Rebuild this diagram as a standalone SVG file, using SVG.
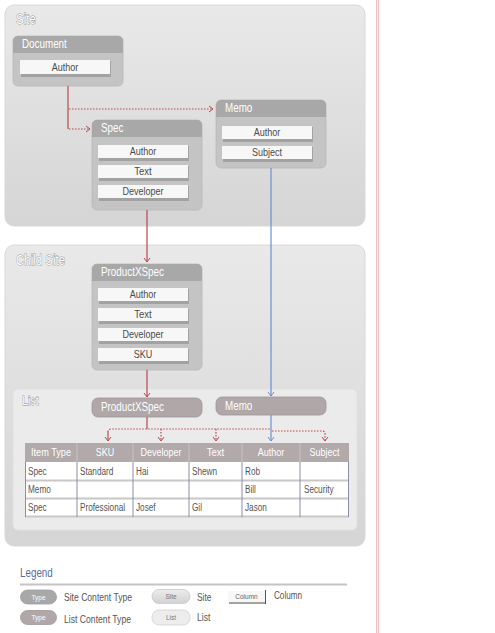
<svg xmlns="http://www.w3.org/2000/svg" width="495" height="633" viewBox="0 0 495 633">
<defs>
<linearGradient id="panel" x1="0" y1="0" x2="0" y2="1">
<stop offset="0" stop-color="#e9e9e9"/><stop offset="1" stop-color="#d5d5d5"/>
</linearGradient>
<linearGradient id="sitepill" x1="0" y1="0" x2="0" y2="1">
<stop offset="0" stop-color="#ececec"/><stop offset="1" stop-color="#d2d2d2"/>
</linearGradient>
<marker id="arR" markerUnits="userSpaceOnUse" markerWidth="8" markerHeight="8" refX="5" refY="4" orient="auto">
<path d="M1,1 L5,4 L1,7" fill="none" stroke="#b84848" stroke-width="1"/>
</marker>
<marker id="arB" markerUnits="userSpaceOnUse" markerWidth="8" markerHeight="8" refX="5" refY="4" orient="auto">
<path d="M1,1 L5,4 L1,7" fill="none" stroke="#6a8fd0" stroke-width="1"/>
</marker>
</defs>
<style>
text{font-family:"Liberation Sans Narrow","Liberation Sans",Arial,sans-serif}
.ptitle{font-size:14px;fill:#ffffff;stroke:#8c8c8c;stroke-width:0.8;paint-order:stroke}
.body{fill:#c4c4c4;stroke:#b8b8b8;stroke-width:0.8}
.hdr{fill:#a8a8a8}
.ntitle{font-size:12px;fill:#ffffff}
.fshadow{fill:#a2a2a2}
.field{fill:#f7f7f7}
.ftext{font-size:11px;fill:#4a4a4a;text-anchor:middle}
.lct{fill:#b0a7a9;stroke:#a09698;stroke-width:0.8}
.th{fill:#b2a9ab}
.thtext{font-size:11px;fill:#ffffff;text-anchor:middle}
.td{font-size:10px;fill:#555555}
.red{fill:none;stroke:#b84848;stroke-width:1.2}
.redd{fill:none;stroke:#b84848;stroke-width:1.2;stroke-dasharray:1.5 1.5}
.blue{fill:none;stroke:#6a8fd0;stroke-width:1.2}
.leg{font-size:10.5px;fill:#555555}
.tiny{font-size:6.5px;fill:#ffffff;text-anchor:middle}
.tinyg{font-size:6.5px;fill:#777777;text-anchor:middle}
</style>
<rect width="495" height="633" fill="#ffffff"/>
<line x1="376.5" y1="0" x2="376.5" y2="633" stroke="#f2bcc4" stroke-width="1"/>
<line x1="378.5" y1="0" x2="378.5" y2="633" stroke="#f2bcc4" stroke-width="1"/>

<g id="site">
<rect x="5" y="5" width="360" height="221" rx="9" fill="url(#panel)" stroke="#d8d8d8" stroke-width="1"/>
<text class="ptitle" x="16" y="24" textLength="19.8" lengthAdjust="spacingAndGlyphs">Site</text>
</g>
<g id="childsite">
<rect x="5" y="245" width="360" height="301" rx="9" fill="url(#panel)" stroke="#d8d8d8" stroke-width="1"/>
<text class="ptitle" x="16" y="265" textLength="49" lengthAdjust="spacingAndGlyphs">Child Site</text>
</g>
<g id="list">
<rect x="13" y="389" width="344" height="141" rx="5" fill="#ebebeb" stroke="#e0e0e0" stroke-width="1"/>
<text class="ptitle" x="22" y="405" style="font-size:13px" textLength="16.6" lengthAdjust="spacingAndGlyphs">List</text>
</g>

<g id="document">
<rect class="body" x="13" y="36" width="110" height="50" rx="5"/>
<path class="hdr" d="M13,53 V41 a5,5 0 0 1 5,-5 H118 a5,5 0 0 1 5,5 V53 Z"/>
<text class="ntitle" x="22" y="48" textLength="44.8" lengthAdjust="spacingAndGlyphs">Document</text>
<rect class="fshadow" x="21" y="61" width="90" height="16"/>
<rect class="field" x="20" y="60" width="90" height="14"/>
<text class="ftext" x="65" y="71" textLength="26.6" lengthAdjust="spacingAndGlyphs">Author</text>
</g>

<g id="memo">
<rect class="body" x="216" y="100" width="110" height="68" rx="5"/>
<path class="hdr" d="M216,117 V105 a5,5 0 0 1 5,-5 H321 a5,5 0 0 1 5,5 V117 Z"/>
<text class="ntitle" x="225" y="112" textLength="27.3" lengthAdjust="spacingAndGlyphs">Memo</text>
<rect class="fshadow" x="223" y="127" width="90" height="15"/>
<rect class="field" x="222" y="126" width="90" height="13"/>
<text class="ftext" x="267" y="136" textLength="26.6" lengthAdjust="spacingAndGlyphs">Author</text>
<rect class="fshadow" x="223" y="147" width="90" height="15"/>
<rect class="field" x="222" y="146" width="90" height="13"/>
<text class="ftext" x="267" y="156" textLength="30.1" lengthAdjust="spacingAndGlyphs">Subject</text>
</g>

<g id="spec">
<rect class="body" x="92" y="120" width="110" height="90" rx="5"/>
<path class="hdr" d="M92,137 V125 a5,5 0 0 1 5,-5 H197 a5,5 0 0 1 5,5 V137 Z"/>
<text class="ntitle" x="101" y="132" textLength="22.4" lengthAdjust="spacingAndGlyphs">Spec</text>
<rect class="fshadow" x="99" y="146" width="90" height="15"/>
<rect class="field" x="98" y="145" width="90" height="13"/>
<text class="ftext" x="143" y="155" textLength="26.6" lengthAdjust="spacingAndGlyphs">Author</text>
<rect class="fshadow" x="99" y="166" width="90" height="15"/>
<rect class="field" x="98" y="165" width="90" height="13"/>
<text class="ftext" x="143" y="175" textLength="17.5" lengthAdjust="spacingAndGlyphs">Text</text>
<rect class="fshadow" x="99" y="186" width="90" height="15"/>
<rect class="field" x="98" y="185" width="90" height="13"/>
<text class="ftext" x="143" y="195" textLength="41.1" lengthAdjust="spacingAndGlyphs">Developer</text>
</g>

<g id="productxspec">
<rect class="body" x="92" y="264" width="110" height="106" rx="5"/>
<path class="hdr" d="M92,281 V269 a5,5 0 0 1 5,-5 H197 a5,5 0 0 1 5,5 V281 Z"/>
<text class="ntitle" x="101" y="276" textLength="62.9" lengthAdjust="spacingAndGlyphs">ProductXSpec</text>
<rect class="fshadow" x="99" y="289" width="90" height="15"/>
<rect class="field" x="98" y="288" width="90" height="13"/>
<text class="ftext" x="143" y="298" textLength="26.6" lengthAdjust="spacingAndGlyphs">Author</text>
<rect class="fshadow" x="99" y="309" width="90" height="15"/>
<rect class="field" x="98" y="308" width="90" height="13"/>
<text class="ftext" x="143" y="318" textLength="17.5" lengthAdjust="spacingAndGlyphs">Text</text>
<rect class="fshadow" x="99" y="329" width="90" height="15"/>
<rect class="field" x="98" y="328" width="90" height="13"/>
<text class="ftext" x="143" y="338" textLength="41.1" lengthAdjust="spacingAndGlyphs">Developer</text>
<rect class="fshadow" x="99" y="349" width="90" height="15"/>
<rect class="field" x="98" y="348" width="90" height="13"/>
<text class="ftext" x="143" y="358" textLength="18.5" lengthAdjust="spacingAndGlyphs">SKU</text>
</g>

<g id="list-productxspec">
<rect class="lct" x="92" y="398" width="110" height="19" rx="6"/>
<text class="ntitle" x="101" y="411" textLength="62.9" lengthAdjust="spacingAndGlyphs">ProductXSpec</text>
</g>
<g id="list-memo">
<rect class="lct" x="216" y="397" width="110" height="18" rx="6"/>
<text class="ntitle" x="225" y="410" textLength="27.3" lengthAdjust="spacingAndGlyphs">Memo</text>
</g>

<g id="table">
<rect class="th" x="25" y="443" width="324" height="19"/>
<g stroke="#c9c0c2" stroke-width="1">
<line x1="77" y1="443" x2="77" y2="462"/><line x1="133" y1="443" x2="133" y2="462"/>
<line x1="189" y1="443" x2="189" y2="462"/><line x1="242" y1="443" x2="242" y2="462"/>
<line x1="300" y1="443" x2="300" y2="462"/>
</g>
<text class="thtext" x="51" y="456" textLength="40.1" lengthAdjust="spacingAndGlyphs">Item Type</text>
<text class="thtext" x="105" y="456" textLength="18.5" lengthAdjust="spacingAndGlyphs">SKU</text>
<text class="thtext" x="161" y="456" textLength="41.1" lengthAdjust="spacingAndGlyphs">Developer</text>
<text class="thtext" x="215.5" y="456" textLength="17.5" lengthAdjust="spacingAndGlyphs">Text</text>
<text class="thtext" x="271" y="456" textLength="26.6" lengthAdjust="spacingAndGlyphs">Author</text>
<text class="thtext" x="324.5" y="456" textLength="30.1" lengthAdjust="spacingAndGlyphs">Subject</text>
<rect x="25" y="462" width="324" height="55" fill="#ffffff"/>
<g stroke="#c8c8c8" stroke-width="2">
<line x1="25" y1="480.5" x2="349" y2="480.5"/>
<line x1="25" y1="498.5" x2="349" y2="498.5"/>
<line x1="25" y1="516.5" x2="349" y2="516.5"/>
</g>
<g stroke="#8a8fa8" stroke-width="1">
<line x1="25.5" y1="462" x2="25.5" y2="517"/><line x1="77" y1="462" x2="77" y2="517"/>
<line x1="133" y1="462" x2="133" y2="517"/><line x1="189" y1="462" x2="189" y2="517"/>
<line x1="242" y1="462" x2="242" y2="517"/><line x1="300" y1="462" x2="300" y2="517"/>
<line x1="348.5" y1="462" x2="348.5" y2="517"/>
</g>
<text class="td" x="28" y="475" textLength="18.7" lengthAdjust="spacingAndGlyphs">Spec</text>
<text class="td" x="80" y="475" textLength="33.3" lengthAdjust="spacingAndGlyphs">Standard</text>
<text class="td" x="136" y="475" textLength="12.3" lengthAdjust="spacingAndGlyphs">Hai</text>
<text class="td" x="192" y="475" textLength="25.1" lengthAdjust="spacingAndGlyphs">Shewn</text>
<text class="td" x="245" y="475" textLength="15" lengthAdjust="spacingAndGlyphs">Rob</text>
<text class="td" x="28" y="493" textLength="22.8" lengthAdjust="spacingAndGlyphs">Memo</text>
<text class="td" x="245" y="493" textLength="10.9" lengthAdjust="spacingAndGlyphs">Bill</text>
<text class="td" x="304" y="493" textLength="29.6" lengthAdjust="spacingAndGlyphs">Security</text>
<text class="td" x="28" y="511" textLength="18.7" lengthAdjust="spacingAndGlyphs">Spec</text>
<text class="td" x="80" y="511" textLength="45.1" lengthAdjust="spacingAndGlyphs">Professional</text>
<text class="td" x="136" y="511" textLength="19.6" lengthAdjust="spacingAndGlyphs">Josef</text>
<text class="td" x="192" y="511" textLength="10" lengthAdjust="spacingAndGlyphs">Gil</text>
<text class="td" x="245" y="511" textLength="21.9" lengthAdjust="spacingAndGlyphs">Jason</text>
</g>

<g id="connectors">
<path class="red" d="M68,86 V129"/>
<path class="redd" d="M69,109 H213" marker-end="url(#arR)"/>
<path class="redd" d="M69,129 H90" marker-end="url(#arR)"/>
<path class="red" d="M147,210 V262" marker-end="url(#arR)"/>
<path class="blue" d="M271,168 V396" marker-end="url(#arB)"/>
<path class="red" d="M147,370 V397" marker-end="url(#arR)"/>
<path class="red" d="M147,417 V429"/>
<path class="redd" d="M108,441 V432 Q108,429 111,429 H271"/>
<path class="redd" d="M108,432 V441" marker-end="url(#arR)"/>
<path class="redd" d="M161,429 V441" marker-end="url(#arR)"/>
<path class="redd" d="M216,429 V441" marker-end="url(#arR)"/>
<path class="blue" d="M271,415 V441" marker-end="url(#arB)"/>
<path class="redd" d="M272,431 H322 Q325,431 325,434 V441" marker-end="url(#arR)"/>
</g>

<g id="legend">
<text x="20" y="577" style="font-size:12px;fill:#5b6aa0" textLength="32.8" lengthAdjust="spacingAndGlyphs">Legend</text>
<line x1="20" y1="584.5" x2="347" y2="584.5" stroke="#c4c4c4" stroke-width="2"/>
<rect x="20.5" y="590" width="36" height="14" rx="7" fill="#a8a8a8" stroke="#a0a0a0" stroke-width="0.8"/>
<text class="tiny" x="38.5" y="599.5">Type</text>
<text class="leg" x="64" y="601" textLength="68" lengthAdjust="spacingAndGlyphs">Site Content Type</text>
<rect x="152" y="589.5" width="38" height="14" rx="7" fill="url(#sitepill)" stroke="#c8c8c8" stroke-width="0.8"/>
<text class="tinyg" x="171" y="599">Site</text>
<text class="leg" x="197" y="601" textLength="14.5" lengthAdjust="spacingAndGlyphs">Site</text>
<rect x="229" y="602" width="37" height="2" fill="#a2a2a2"/>
<rect x="228" y="591" width="37" height="11" fill="#f7f7f7"/>
<line x1="265.5" y1="590" x2="265.5" y2="604" stroke="#555" stroke-width="1"/>
<text class="tinyg" x="246.5" y="599" style="fill:#666">Column</text>
<text class="leg" x="274" y="599" textLength="28" lengthAdjust="spacingAndGlyphs">Column</text>
<rect x="20.5" y="610.5" width="36" height="14" rx="7" fill="#b0a7a9" stroke="#a09698" stroke-width="0.8"/>
<text class="tiny" x="38.5" y="620">Type</text>
<text class="leg" x="64" y="622.5" textLength="67" lengthAdjust="spacingAndGlyphs">List Content Type</text>
<rect x="152" y="610" width="38" height="15" rx="7" fill="#ededed" stroke="#d0d0d0" stroke-width="0.8"/>
<text class="tinyg" x="171" y="620">List</text>
<text class="leg" x="197" y="621" textLength="13.4" lengthAdjust="spacingAndGlyphs">List</text>
</g>
</svg>
